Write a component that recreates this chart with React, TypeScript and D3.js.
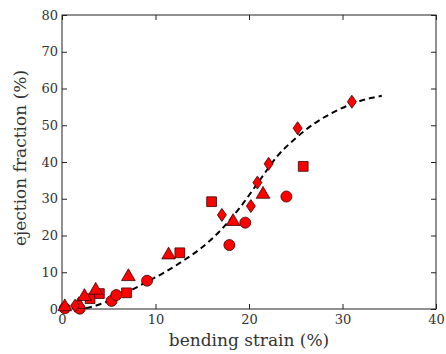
import { useRef, useEffect } from 'react';
import * as d3 from 'd3';

// marker data (bending strain %, ejection fraction %)
const circleX = [0.3, 1.9, 5.3, 5.8, 9.1, 17.9, 19.6, 24.0];
const circleY = [0.2, 0.1, 2.2, 3.8, 7.7, 17.4, 23.5, 30.6];

const squareX = [3.0, 4.0, 6.9, 12.6, 16.0, 25.8];
const squareY = [2.8, 4.2, 4.4, 15.3, 29.2, 38.8];

const triangleX = [0.3, 1.8, 2.4, 3.6, 7.1, 11.4, 18.3, 21.5];
const triangleY = [0.6, 1.2, 3.4, 5.1, 8.8, 14.7, 23.8, 31.2];

const diamondX = [1.4, 17.1, 20.2, 20.9, 22.1, 25.2, 31.0];
const diamondY = [0.9, 25.6, 28.0, 34.4, 39.5, 49.2, 56.4];

// dashed trend curve
const fitX = [1.5, 3, 5, 7, 9, 11, 13, 15, 17, 19, 21, 23, 25, 27, 29, 31, 33, 34.2];
const fitY = [0, 0.5, 2.2, 4.6, 7.3, 10, 13.2, 16.8, 21.5, 27.5, 34.5, 41.5, 46.5, 50.5, 53.5, 55.8, 57.4, 58];

const xTicks = [0, 10, 20, 30, 40];
const yTicks = [0, 10, 20, 30, 40, 50, 60, 70, 80];

const FONT = 'DejaVu Serif, Liberation Serif, Times New Roman, serif';

export default function App() {
    const svgRef = useRef<SVGSVGElement>(null);

    useEffect(() => {
        if (!svgRef.current) return;
        const width = 446;
        const height = 354;
        const margin = { top: 15, right: 10, bottom: 45, left: 62 };
        const w = width - margin.left - margin.right;
        const h = height - margin.top - margin.bottom;

        const svg = d3.select(svgRef.current);
        svg.selectAll('*').remove();

        const g = svg.append('g')
            .attr('transform', `translate(${margin.left},${margin.top})`);

        const x = d3.scaleLinear().domain([0, 40]).range([0, w]);
        const y = d3.scaleLinear().domain([0, 80]).range([h, 0]);

        // frame
        g.append('rect')
            .attr('width', w).attr('height', h)
            .attr('fill', 'none')
            .attr('stroke', '#222').attr('stroke-width', 1);

        const tl = 5;
        // inward ticks on all four sides
        const styleAxis = (sel: d3.Selection<SVGGElement, unknown, null, undefined>) => {
            sel.attr('font-family', null).attr('font-size', null);
            sel.select('.domain').remove();
            sel.selectAll('.tick line').attr('stroke', '#222');
            sel.selectAll('.tick text')
                .attr('fill', '#333')
                .attr('font-family', FONT)
                .attr('font-size', 13);
        };

        g.append('g')
            .attr('transform', `translate(0,${h})`)
            .call(d3.axisBottom(x).tickValues(xTicks).tickSize(-tl).tickPadding(6).tickFormat(d3.format('d')))
            .call(styleAxis);
        g.append('g')
            .call(d3.axisTop(x).tickValues(xTicks).tickSize(-tl).tickFormat(() => ''))
            .call(styleAxis);
        g.append('g')
            .call(d3.axisLeft(y).tickValues(yTicks).tickSize(-tl).tickPadding(4).tickFormat(d3.format('d')))
            .call(styleAxis);
        g.append('g')
            .attr('transform', `translate(${w},0)`)
            .call(d3.axisRight(y).tickValues(yTicks).tickSize(-tl).tickFormat(() => ''))
            .call(styleAxis);

        // dashed curve
        const line = d3.line<number>()
            .x((_, i) => x(fitX[i]))
            .y(d => y(d))
            .curve(d3.curveMonotoneX);
        g.append('path')
            .datum(fitY)
            .attr('fill', 'none')
            .attr('stroke', '#000')
            .attr('stroke-width', 2)
            .attr('stroke-dasharray', '6,4')
            .attr('d', line);

        const fill = '#ff0000';
        const stroke = '#3a0000';

        const markers = [
            { xs: circleX, ys: circleY, sym: d3.symbolCircle, size: 95 },
            { xs: squareX, ys: squareY, sym: d3.symbolSquare, size: 95 },
            { xs: triangleX, ys: triangleY, sym: d3.symbolTriangle, size: 80 },
        ];
        markers.forEach(m => {
            const pts = m.xs.map((v, i) => [v, m.ys[i]]);
            g.selectAll(null)
                .data(pts)
                .enter()
                .append('path')
                .attr('transform', d => `translate(${x(d[0])},${y(d[1])})`)
                .attr('d', d3.symbol().type(m.sym).size(m.size)())
                .attr('fill', fill)
                .attr('stroke', stroke)
                .attr('stroke-width', 0.8);
        });

        // diamonds: taller than wide
        const dpts = diamondX.map((v, i) => [v, diamondY[i]]);
        g.selectAll(null)
            .data(dpts)
            .enter()
            .append('path')
            .attr('transform', d => `translate(${x(d[0])},${y(d[1])})`)
            .attr('d', 'M0,-6.5L4.5,0L0,6.5L-4.5,0Z')
            .attr('fill', fill)
            .attr('stroke', stroke)
            .attr('stroke-width', 0.8);

        // axis labels
        svg.append('text')
            .attr('x', margin.left + w / 2)
            .attr('y', 346)
            .attr('text-anchor', 'middle')
            .attr('fill', '#333')
            .attr('font-family', FONT)
            .attr('font-size', 17)
            .text('bending strain (%)');

        svg.append('text')
            .attr('transform', `translate(26,${margin.top + h / 2 - 4}) rotate(-90)`)
            .attr('text-anchor', 'middle')
            .attr('fill', '#333')
            .attr('font-family', FONT)
            .attr('font-size', 17)
            .text('ejection fraction (%)');
    }, []);

    return (
        <div style={{ position: 'absolute', left: 0, top: 0, background: '#fff' }}>
            <svg ref={svgRef} width={446} height={354} style={{ display: 'block' }}></svg>
        </div>
    );
}
